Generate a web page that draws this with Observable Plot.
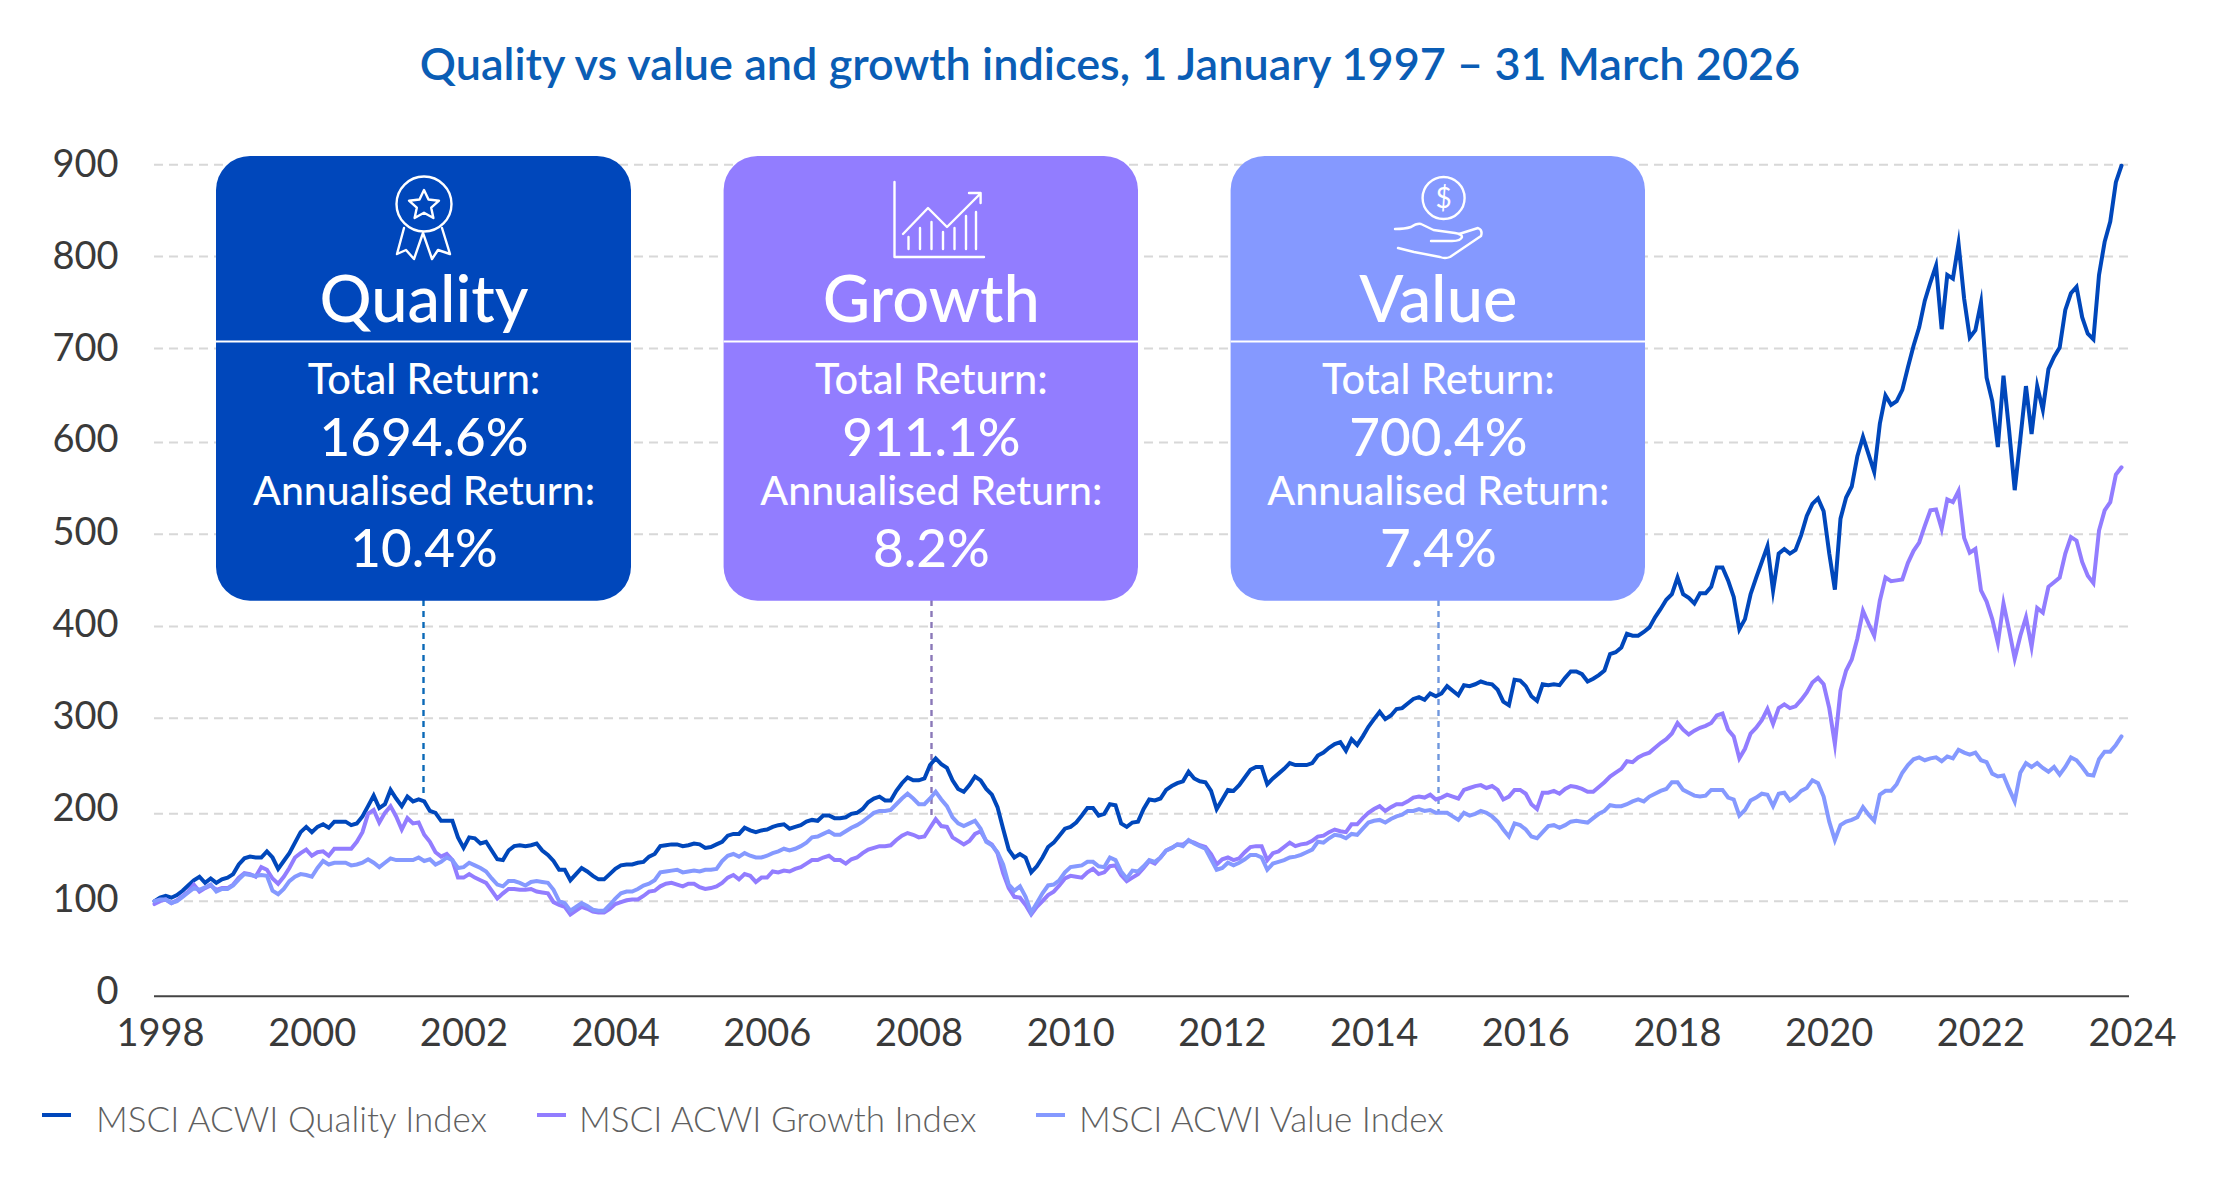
<!DOCTYPE html>
<html><head><meta charset="utf-8">
<script src="https://cdn.jsdelivr.net/npm/d3@7"></script>
<script src="https://cdn.jsdelivr.net/npm/@observablehq/plot@0.6"></script>
<style>
html,body{margin:0;padding:0;background:#fff;font-family:Lato,sans-serif}
#wrap{position:relative;width:2220px;height:1177px;overflow:hidden}
#title{position:absolute;left:0;top:0;width:2220px;height:100px;text-align:center;color:#0a5db5;font:600 45px/126px Lato,sans-serif;}
#chart{position:absolute;left:0;top:100px}
#legend{position:absolute;left:0;top:1085px;width:2220px;height:92px}
.li{position:absolute;top:11px;color:#5f5f5f;font:300 35px/44px Lato,sans-serif;white-space:nowrap}
.sw{position:absolute;top:28px;width:29px;height:4px}
</style></head><body>
<div id="wrap"><div id="title"></div><div id="chart"></div><div id="legend"></div></div>
<script>
const titleText = "Quality vs value and growth indices, 1 January 1997 – 31 March 2026";
const seriesNames = ["MSCI ACWI Quality Index","MSCI ACWI Growth Index","MSCI ACWI Value Index"];
const seriesColors = ["#0047bb","#927dff","#8599ff"];
const yTicks = [0,100,200,300,400,500,600,700,800,900];
const xTicks = [1998,2000,2002,2004,2006,2008,2010,2012,2014,2016,2018,2020,2022,2024];

const quality = [100,104,106,104,107,112,118,124,128,121,126,121,125,127,131,142,149,151,150,150,157,150,137,146,155,167,179,185,179,185,188,184,191,191,191,187,189,197,208,219,206,210,225,216,208,218,213,215,213,203,201,192,192,192,173,161,173,172,166,168,158,148,147,158,163,164,163,164,166,158,153,146,136,136,124,131,138,134,129,125,125,131,137,141,142,142,144,145,151,154,163,164,
165,165,163,164,166,165,161,162,165,168,175,177,177,184,181,179,181,182,185,187,188,183,185,187,191,193,192,198,198,195,195,196,200,201,205,212,216,218,214,214,224,232,238,235,235,237,251,258,252,248,235,226,223,230,239,235,226,220,207,183,159,150,154,150,133,140,150,162,167,175,183,185,190,198,206,206,198,200,210,209,189,185,190,191,205,215,214,216,225,229,232,234,244,
237,234,233,224,205,215,225,224,230,238,246,249,249,231,237,242,247,253,251,251,251,253,261,264,269,273,275,266,278,272,281,291,299,307,299,303,310,311,316,321,323,320,327,324,327,335,330,325,336,335,337,340,338,337,331,318,314,342,341,335,324,319,337,336,337,336,344,351,351,348,340,343,347,352,370,372,377,
392,390,390,394,399,410,419,429,435,453,435,431,425,436,436,443,464,464,450,432,397,408,435,453,470,487,439,479,484,479,483,499,520,533,539,525,479,440,517,
540,552,585,606,587,568,620,650,640,644,656,680,703,723,752,772,790,721,780,776,814,754,712,720,750,669,644,595,671,613,548,604,660,609,660,635,678,691,701,742,760,767,734,716,710,780,816,838,881,899];

const growth = [97,100,102,98,101,106,111,119,111,115,118,113,115,115,119,127,132,131,128,139,136,126,120,128,138,150,155,159,152,156,157,152,160,160,160,160,168,179,200,204,190,201,208,197,182,195,189,190,176,168,156,151,154,147,127,127,131,127,124,121,112,103,109,114,114,113,113,114,111,110,109,99,96,94,86,90,94,92,89,88,88,92,97,99,101,102,102,106,111,112,117,120,
121,119,117,120,120,116,114,115,117,121,127,130,125,131,129,122,127,127,134,133,135,134,137,139,143,147,147,150,152,147,147,143,148,150,155,159,161,163,163,164,170,175,178,176,173,174,184,194,186,185,173,169,165,169,177,180,169,165,155,132,115,105,104,96,86,94,100,107,111,118,126,129,128,127,133,137,131,133,140,141,130,123,127,131,138,146,143,150,158,161,165,165,169,
167,164,162,154,142,148,150,147,149,156,162,163,163,147,155,157,162,167,163,165,166,169,174,175,179,182,180,179,188,188,195,201,205,208,203,207,210,210,213,217,218,217,220,215,217,220,218,216,225,227,229,230,227,229,225,215,218,225,225,221,210,205,222,222,224,221,226,229,228,226,223,223,228,233,239,243,247,255,254,259,262,264,269,274,278,284,295,288,283,287,290,292,
295,303,305,288,281,258,268,284,290,298,310,294,311,315,311,313,320,328,339,344,337,311,273,330,352,364,387,417,403,390,428,453,449,450,451,469,482,491,509,526,527,506,538,535,547,496,480,484,439,427,408,382,425,396,365,390,410,378,420,415,443,448,453,479,497,493,470,455,447,504,526,535,565,573];

const value = [100,102,102,98,100,105,110,115,113,116,119,111,114,114,118,125,131,130,129,130,129,112,108,114,123,128,131,130,128,138,146,142,144,144,144,141,142,144,148,144,139,144,149,147,147,147,147,150,146,148,142,145,150,147,138,139,144,141,138,134,126,119,117,123,123,121,118,122,123,122,121,113,100,98,90,94,98,95,91,90,90,96,103,109,111,111,114,118,120,124,133,134,
135,136,133,134,135,134,136,136,137,146,152,154,151,155,152,150,150,152,155,157,160,158,160,163,167,173,174,177,180,176,176,180,184,187,191,196,201,203,203,204,210,216,221,216,210,210,216,223,215,208,196,189,186,189,192,183,168,164,156,142,119,112,117,105,88,98,109,118,119,124,133,139,140,141,145,145,140,139,150,147,134,126,135,134,140,147,145,150,158,161,165,163,170,
166,163,160,148,136,138,144,141,144,148,153,153,150,136,143,145,147,150,151,153,156,159,168,167,172,176,175,172,177,176,183,190,192,193,190,194,197,199,203,203,205,203,204,201,201,201,197,193,201,198,200,203,201,197,191,182,174,189,187,182,174,172,179,186,187,184,187,191,192,191,190,195,200,203,209,208,208,210,213,215,213,218,221,224,226,233,233,225,222,219,218,219,
225,225,225,217,215,198,204,214,217,221,220,208,221,222,214,218,224,227,235,232,218,191,170,187,191,193,196,207,199,192,220,224,224,231,243,251,257,259,256,258,259,255,260,258,267,264,262,264,256,254,242,239,240,226,213,243,253,249,253,248,244,249,241,249,259,256,249,241,240,257,265,265,272,281];

const cards = ["Quality","Growth","Value"];
const totalReturns = ["1694.6%","911.1%","700.4%"];
const annualReturns = ["10.4%","8.2%","7.4%"];

// layout in picture pixels
const T = 100;
const yDomain = yTicks;
const yRange = [995.7,900.7,813.3,717.7,626,533.7,442,348,256,164.3].map(d=>d-T);
const xDomain = [1997.92,2023.96], xRange = [154,2129];
const xOf = d3.scaleLinear().domain(xDomain).range(xRange);
const yOf = d3.scaleLinear().domain(yDomain).range(yRange);
const X = px => xOf.invert(px), Y = px => yOf.invert(px-T);

const xStart = X(154), xEnd = X(2121);
const toRows = (vals,name) => vals.map((v,i)=>({x:xStart+i*(xEnd-xStart)/(vals.length-1),v,name}));
const rows = [...toRows(quality,seriesNames[0]),...toRows(growth,seriesNames[1]),...toRows(value,seriesNames[2])];

const cardBoxes = [[216,631],[723.6,1138],[1230.6,1645]];
const cardRows = cards.map((c,i)=>({c,x1:X(cardBoxes[i][0]),x2:X(cardBoxes[i][1]),xm:X((cardBoxes[i][0]+cardBoxes[i][1])/2),
  total:totalReturns[i],ann:annualReturns[i]}));

const connectorX = [423,931,1438];
const connectorEnd = [797,820,813];
const connectorCol = ["#0b69b7","#8a78b8","#6f97dd"];
const labelPx = [991,899,808,716,624,532,439,348,256,164];

function txt(accessor,basePx,size,weight){
  return Plot.text(cardRows,{x:"xm",y:()=>Y(basePx - 0.32*size),text:accessor,fill:"#fff",fontSize:size,fontWeight:weight,fontFamily:"Lato, sans-serif",textAnchor:"middle"});
}
function icons(){
  const g = d3.create("svg:g").attr("transform",`translate(0,${-T})`).attr("fill","none").attr("stroke","#fff").attr("stroke-width",2.4).attr("stroke-linejoin","round").attr("stroke-linecap","round");
  g.append("circle").attr("cx",424).attr("cy",204).attr("r",27.5);
  g.append("path").attr("d","M424 190l4.5 9.5 10.5 1.2-7.8 7 2.2 10.3-9.4-5.2-9.4 5.2 2.2-10.3-7.8-7 10.5-1.2z");
  g.append("path").attr("d","M404 228L397 254L406 250L414 259L423 233L432 259L438 250L450 254L442 228");
  g.append("path").attr("d","M894.5 182V257H984");
  g.append("path").attr("d","M903 234L928 208L947 227L979 195M969 193H980.6V203");
  [[908.5,237],[920,228],[931.5,222],[943,232],[954.5,228],[966,216],[976,212]].forEach(([x,y])=>g.append("path").attr("d",`M${x} ${y}V249`));
  g.append("circle").attr("cx",1443.6).attr("cy",198).attr("r",21);
  g.append("text").attr("x",1443.6).attr("y",208).attr("text-anchor","middle").attr("font-size",28).attr("font-family","Lato, sans-serif").attr("fill","#fff").attr("stroke","none").text("$");
  g.append("path").attr("d","M1395 229Q1405 229 1411 227Q1417 223 1421 224L1433.5 230L1455 233Q1462 234 1462 237Q1461 241 1452 241H1431");
  g.append("path").attr("d","M1459 234L1478 228Q1483 230 1481 236L1450 257Q1445 259 1440 257L1414 252L1398 248");
  return g.node();
}

const plot = Plot.plot({
  width:2220, height:985, marginLeft:154, marginRight:60, marginTop:0, marginBottom:0,
  style:{background:"#fff",fontFamily:"Lato, sans-serif"},
  x:{domain:xDomain,range:xRange,axis:null},
  y:{transform:yOf,domain:[yRange[0],yRange[9]],range:[yRange[0],yRange[9]],axis:null},
  color:{domain:[...seriesNames,...cards],range:[...seriesColors,...seriesColors]},
  marks:[
    Plot.ruleY(yTicks.slice(1),{x1:()=>xDomain[0],x2:()=>xDomain[1],stroke:"#d8d8d8",strokeWidth:1.9,strokeDasharray:"9,6"}),
    Plot.ruleY([0],{x1:()=>xDomain[0],x2:()=>xDomain[1],stroke:"#444",strokeWidth:2}),
    ...connectorX.map((px,i)=>Plot.ruleX([X(px)],{y1:Y(600),y2:Y(connectorEnd[i]),stroke:connectorCol[i],strokeWidth:2.4,strokeDasharray:"6,5"})),
    Plot.line(rows,{x:"x",y:"v",z:"name",stroke:"name",strokeWidth:4,strokeLinejoin:"miter",strokeMiterlimit:8}),
    Plot.rect(cardRows,{x1:"x1",x2:"x2",y1:()=>Y(156),y2:()=>Y(600.7),fill:"c",rx:34,ry:34}),
    Plot.ruleY(cardRows,{x1:"x1",x2:"x2",y:()=>Y(341),stroke:"#fff",strokeWidth:2}),
    txt("c",321.5,65,500),
    Plot.text(cardRows,{x:"xm",y:()=>Y(393.5-13),text:()=>"Total Return:",fill:"#fff",fontSize:41.5,fontFamily:"Lato, sans-serif",fontWeight:500}),
    txt("total",455,53,500),
    Plot.text(cardRows,{x:"xm",y:()=>Y(504-13),text:()=>"Annualised Return:",fill:"#fff",fontSize:41,fontFamily:"Lato, sans-serif",fontWeight:500}),
    txt("ann",566,53,500),
    icons,
    Plot.text(yTicks,{x:()=>X(118),y:(d,i)=>Y(labelPx[i]),text:d=>String(d),textAnchor:"end",fontSize:38,fill:"#3a3a3a",fontFamily:"Lato, sans-serif"}),
    Plot.text(xTicks,{x:d=>d,y:()=>Y(1033),text:d=>String(d),fontSize:38,fill:"#3a3a3a",fontFamily:"Lato, sans-serif"})
  ]
});
document.getElementById("chart").appendChild(plot);
document.getElementById("title").textContent = titleText;
const legend = document.getElementById("legend");
[[42,96],[537,579],[1036,1079]].forEach(([s,t],i)=>{
  const a=document.createElement("div");a.className="sw";a.style.left=s+"px";a.style.background=seriesColors[i];legend.appendChild(a);
  const b=document.createElement("div");b.className="li";b.style.left=t+"px";b.textContent=seriesNames[i];legend.appendChild(b);
});
</script></body></html>
